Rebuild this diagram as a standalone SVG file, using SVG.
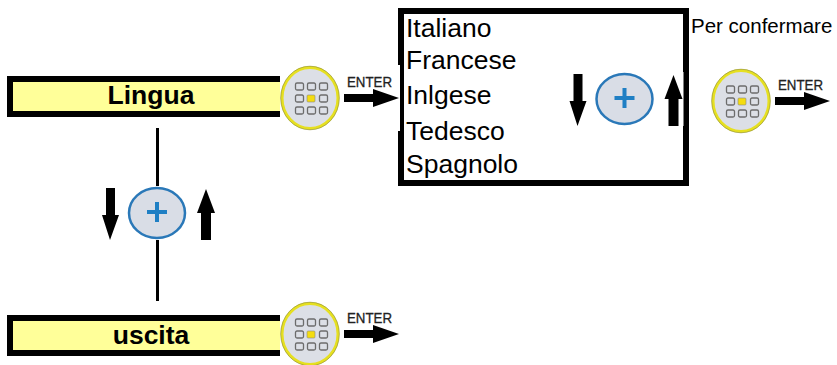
<svg xmlns="http://www.w3.org/2000/svg" width="837" height="365" viewBox="0 0 837 365">
<style>
text{font-family:"Liberation Sans",Arial,sans-serif;fill:#000}
.lab{font-size:26.5px;font-weight:bold;text-anchor:middle}
.opt{font-size:26.5px}
.ent{font-size:14px;fill:#222;stroke:#222;stroke-width:.3}
.bar{fill:#ffff99;stroke:#000;stroke-width:6}
.line{stroke:#000;stroke-width:3;fill:none}
.pad{fill:none;stroke:#6c6c6c;stroke-width:1.3}
</style>
<defs>
<g id="key">
<rect x="-30" y="-33" width="120" height="66" fill="#fff"/>
<ellipse cx="0" cy="0" rx="28" ry="30.5" fill="#dcdfe6" stroke="#e6e020" stroke-width="3"/>
<ellipse cx="0" cy="0" rx="29.3" ry="31.8" fill="none" stroke="#8a8a40" stroke-width="0.6"/>
<g class="pad">
<rect x="-14.5" y="-15" width="8" height="7" rx="1.5"/><rect x="-2.5" y="-15" width="8" height="7" rx="1.5"/><rect x="9.5" y="-15" width="8" height="7" rx="1.5"/>
<rect x="-14.5" y="-3" width="8" height="7" rx="1.5"/><rect x="9.5" y="-3" width="8" height="7" rx="1.5"/>
<rect x="-14.5" y="9" width="8" height="7" rx="1.5"/><rect x="-2.5" y="9" width="8" height="7" rx="1.5"/><rect x="9.5" y="9" width="8" height="7" rx="1.5"/>
</g>
<rect x="-3" y="-3" width="8" height="7" rx="1" fill="#f4dc10" stroke="#888" stroke-width="0.6"/>
<path d="M34-4H63V-9L89 0L63 9V4H34Z" fill="#000"/>
<text class="ent" x="37" y="-11" textLength="45" lengthAdjust="spacingAndGlyphs">ENTER</text>
</g>
<g id="nav">
<rect x="-57" y="-27" width="116" height="54" fill="#fff"/>
<path d="M-51-25H-42V2H-38L-47 27L-55 2H-51Z" fill="#000"/>
<ellipse cx="0" cy="0" rx="28" ry="25" fill="#d9dde6" stroke="#2a78b8" stroke-width="2.5"/>
<path d="M-2-11H2V-3H10V1H2V9H-2V1H-10V-3H-2Z" fill="#1f7fc4"/>
<path d="M44 27H54V0H58L49-24L40 0H44Z" fill="#000"/>
</g>
</defs>
<g id="connectors">
<path class="line" d="M157.5 128V187M157.5 240V301"/>
</g>
<g id="node-lingua">
<rect class="bar" x="10" y="79" width="276" height="35"/>
<text class="lab" x="151" y="103.5">Lingua</text>
</g>
<g id="node-uscita">
<rect class="bar" x="10" y="318" width="276" height="35"/>
<text class="lab" x="151" y="343.5">uscita</text>
</g>
<g id="node-menu">
<rect x="401" y="11" width="285" height="172" fill="#fff" stroke="#000" stroke-width="6"/>
<text class="opt" x="406" y="36.5">Italiano</text>
<text class="opt" x="406" y="69">Francese</text>
<text class="opt" x="406" y="103.5">Inlgese</text>
<text class="opt" x="406" y="139.5">Tedesco</text>
<text class="opt" x="406" y="172.5">Spagnolo</text>
<use href="#nav" x="624.5" y="99"/>
</g>
<g id="node-key1"><use href="#key" x="310" y="98"/></g>
<g id="node-key2"><use href="#key" x="741" y="101"/></g>
<g id="node-key3"><use href="#key" x="310" y="334"/></g>
<g id="node-nav"><use href="#nav" x="157" y="213"/></g>
<g id="node-confirm"><text x="691" y="33" font-size="20.5">Per confermare</text></g>
</svg>
